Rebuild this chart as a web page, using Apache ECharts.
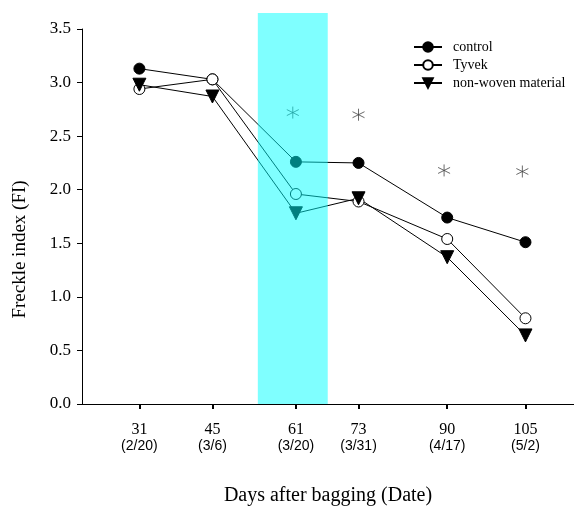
<!DOCTYPE html>
<html><head><meta charset="utf-8">
<script src="https://cdn.jsdelivr.net/npm/echarts@6/dist/echarts.min.js"></script>
<style>html,body{margin:0;padding:0;background:#fff}#c{width:574px;height:509px}</style>
</head><body><div id="c"></div>
<script>
const days = [31, 45, 61, 73, 90, 105];
const dates = ['(2/20)', '(3/6)', '(3/20)', '(3/31)', '(4/17)', '(5/2)'];
const control = [3.13, 3.03, 2.26, 2.25, 1.74, 1.51];
const tyvek = [2.94, 3.03, 1.96, 1.89, 1.54, 0.80];
const nonWoven = [2.98, 2.87, 1.78, 1.92, 1.37, 0.64];
const starDays = [60.4, 73, 89.4, 104.4];
const starValues = [2.72, 2.70, 2.18, 2.17];
const shadeRange = [53.7, 67.1];
const yTicks = [0, 0.5, 1.0, 1.5, 2.0, 2.5, 3.0, 3.5];
const seriesNames = ['control', 'Tyvek', 'non-woven material'];

const serif = 'Liberation Serif';
const pairs = (xs, ys) => xs.map((x, i) => [x, ys[i]]);
const dateOf = v => dates[days.indexOf(v)];
const lineSeries = (name, vals, symbol, fill, rotate) => ({
  name, type: 'line', data: pairs(days, vals), xAxisIndex: 0, yAxisIndex: 0,
  symbol, symbolSize: symbol === 'circle' ? 11 : 13, symbolRotate: rotate || 0,
  showAllSymbol: true,
  lineStyle: {color: '#000', width: 1},
  itemStyle: {color: fill, borderColor: '#000', borderWidth: 1},
  emphasis: {disabled: true}, animation: false, z: 3
});

const chart = echarts.init(document.getElementById('c'), null, {renderer: 'canvas'});
chart.setOption({
  animation: false,
  backgroundColor: '#fff',
  grid: [
    {left: 82, right: 0, top: 29, bottom: 105, outerBoundsMode: 'none', containLabel: false},
    {left: 82, right: 0, top: 13, bottom: 105, outerBoundsMode: 'none', containLabel: false}
  ],
  xAxis: [
    {type: 'value', gridIndex: 0, min: 20, max: 114.3,
     axisLine: {lineStyle: {color: '#000', width: 1}},
     axisTick: {show: true, length: 5, lineStyle: {color: '#000', width: 2}, customValues: days},
     axisLabel: {customValues: days, margin: 17, color: '#000',
       formatter: v => '{a|' + v + '}\n{b|' + dateOf(v) + '}',
       rich: {a: {fontFamily: serif, fontSize: 16, lineHeight: 17, color: '#000'},
              b: {fontFamily: 'Liberation Sans', fontSize: 14, lineHeight: 17, color: '#000'}}},
     splitLine: {show: false},
     name: 'Days after bagging (Date)', nameLocation: 'middle', nameGap: 82,
     nameTextStyle: {fontFamily: serif, fontSize: 20, color: '#000'}},
    {type: 'value', gridIndex: 1, min: 20, max: 114.3, show: false}
  ],
  yAxis: [
    {type: 'value', gridIndex: 0, min: 0, max: 3.5, interval: 0.5,
     axisLine: {show: true, lineStyle: {color: '#000', width: 1}},
     axisTick: {show: true, length: 5, lineStyle: {color: '#000', width: 1}, customValues: yTicks},
     axisLabel: {customValues: yTicks, margin: 11, color: '#000', fontFamily: serif, fontSize: 17,
       formatter: v => v.toFixed(1)},
     splitLine: {show: false},
     name: 'Freckle index (FI)', nameLocation: 'middle', nameGap: 52, nameRotate: 90,
     nameTextStyle: {fontFamily: serif, fontSize: 19, color: '#000', padding: [0, 66, 0, 0]}},
    {type: 'value', gridIndex: 1, min: 0, max: 1, show: false}
  ],
  legend: {
    orient: 'vertical', left: 413, top: 40, itemWidth: 28, itemHeight: 12, itemGap: 4, padding: 0,
    data: seriesNames, selectedMode: false,
    textStyle: {fontFamily: serif, fontSize: 14, lineHeight: 12, color: '#000', padding: [0, 0, 0, 6]}
  },
  series: [
    lineSeries(seriesNames[0], control, 'circle', '#000'),
    lineSeries(seriesNames[1], tyvek, 'circle', '#fff'),
    lineSeries(seriesNames[2], nonWoven, 'triangle', '#000', 180),
    {name: 'sig', type: 'scatter', data: pairs(starDays, starValues), xAxisIndex: 0, yAxisIndex: 0,
     symbol: 'path://M5,0L5,10M0.67,2.5L9.33,7.5M0.67,7.5L9.33,2.5', symbolSize: 12,
     itemStyle: {color: 'rgba(0,0,0,0)', borderColor: '#444', borderWidth: 1},
     emphasis: {disabled: true}, z: 3},
    {name: 'shade', type: 'line', data: [], xAxisIndex: 1, yAxisIndex: 1, z: 10,
     markArea: {silent: true, z: 10,
       itemStyle: {color: 'rgba(0,255,255,0.5)'},
       data: [[{xAxis: shadeRange[0], yAxis: 0}, {xAxis: shadeRange[1], yAxis: 1}]]}}
  ]
});
</script></body></html>
